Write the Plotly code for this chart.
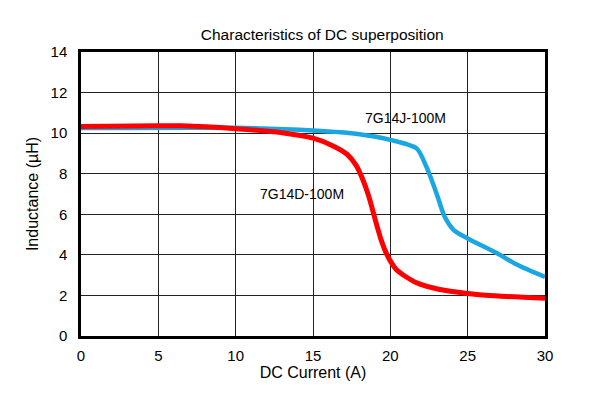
import plotly.graph_objects as go

red_x = [0, 5, 6.5, 10, 13, 15, 16.3, 17.2, 17.8, 18.2, 18.6, 19.0, 19.4, 19.8, 20.4, 21.7, 23.2, 25, 27, 30]
red_y = [10.33, 10.36, 10.36, 10.22, 10.02, 9.75, 9.37, 8.96, 8.4, 7.75, 6.9, 5.8, 4.75, 3.98, 3.27, 2.62, 2.29, 2.1, 1.97, 1.86]

blue_x = [0, 10, 15, 18, 20, 21.7, 22.35, 23, 23.5, 24.1, 25, 26.9, 28.2, 30]
blue_y = [10.25, 10.26, 10.13, 9.95, 9.67, 9.25, 8.31, 7.0, 5.9, 5.22, 4.81, 4.08, 3.51, 2.91]

x_ticks = [0, 5, 10, 15, 20, 25, 30]
y_ticks = [0, 2, 4, 6, 8, 10, 12, 14]

FONT = "Liberation Sans, Arial, sans-serif"

fig = go.Figure()
fig.add_trace(go.Scatter(x=blue_x, y=blue_y, mode="lines", name="7G14J-100M",
                         line=dict(color="#1aa7e1", width=4.5, shape="spline", smoothing=0.7)))
fig.add_trace(go.Scatter(x=red_x, y=red_y, mode="lines", name="7G14D-100M",
                         line=dict(color="#ff0000", width=5, shape="spline", smoothing=0.7)))

fig.add_annotation(x=20.97, y=10.73, text="7G14J-100M", showarrow=False,
                   font=dict(family=FONT, size=14, color="black"))
fig.add_annotation(x=14.3, y=7.02, text="7G14D-100M", showarrow=False,
                   font=dict(family=FONT, size=14, color="black"))

fig.update_layout(
    width=583, height=388,
    margin=dict(l=73, r=46, t=44, b=60),
    paper_bgcolor="white", plot_bgcolor="white",
    showlegend=False,
    title=dict(text="Characteristics of DC superposition", x=0.52, xref="paper", xanchor="center",
               y=1, yref="paper", yanchor="bottom", pad=dict(b=12),
               font=dict(family=FONT, size=15.5, color="black")),
    font=dict(family=FONT, size=15, color="black"),
)
fig.update_xaxes(range=[0, 30], tickvals=x_ticks, showgrid=True, gridcolor="#222", gridwidth=1,
                 showline=True, linecolor="black", linewidth=2.5, mirror=True, zeroline=False,
                 ticks="", ticklabelstandoff=4, tickfont=dict(size=15),
                 title=dict(text="DC Current (A)", standoff=4, font=dict(family=FONT, size=16)))
fig.update_yaxes(range=[0, 14], tickvals=y_ticks, showgrid=True, gridcolor="#222", gridwidth=1,
                 showline=True, linecolor="black", linewidth=2.5, mirror=True, zeroline=False,
                 ticks="", ticklabelstandoff=8, tickfont=dict(size=15),
                 title=dict(text="Inductance (µH)", standoff=8, font=dict(family=FONT, size=16)))

fig.write_html("out.html")
